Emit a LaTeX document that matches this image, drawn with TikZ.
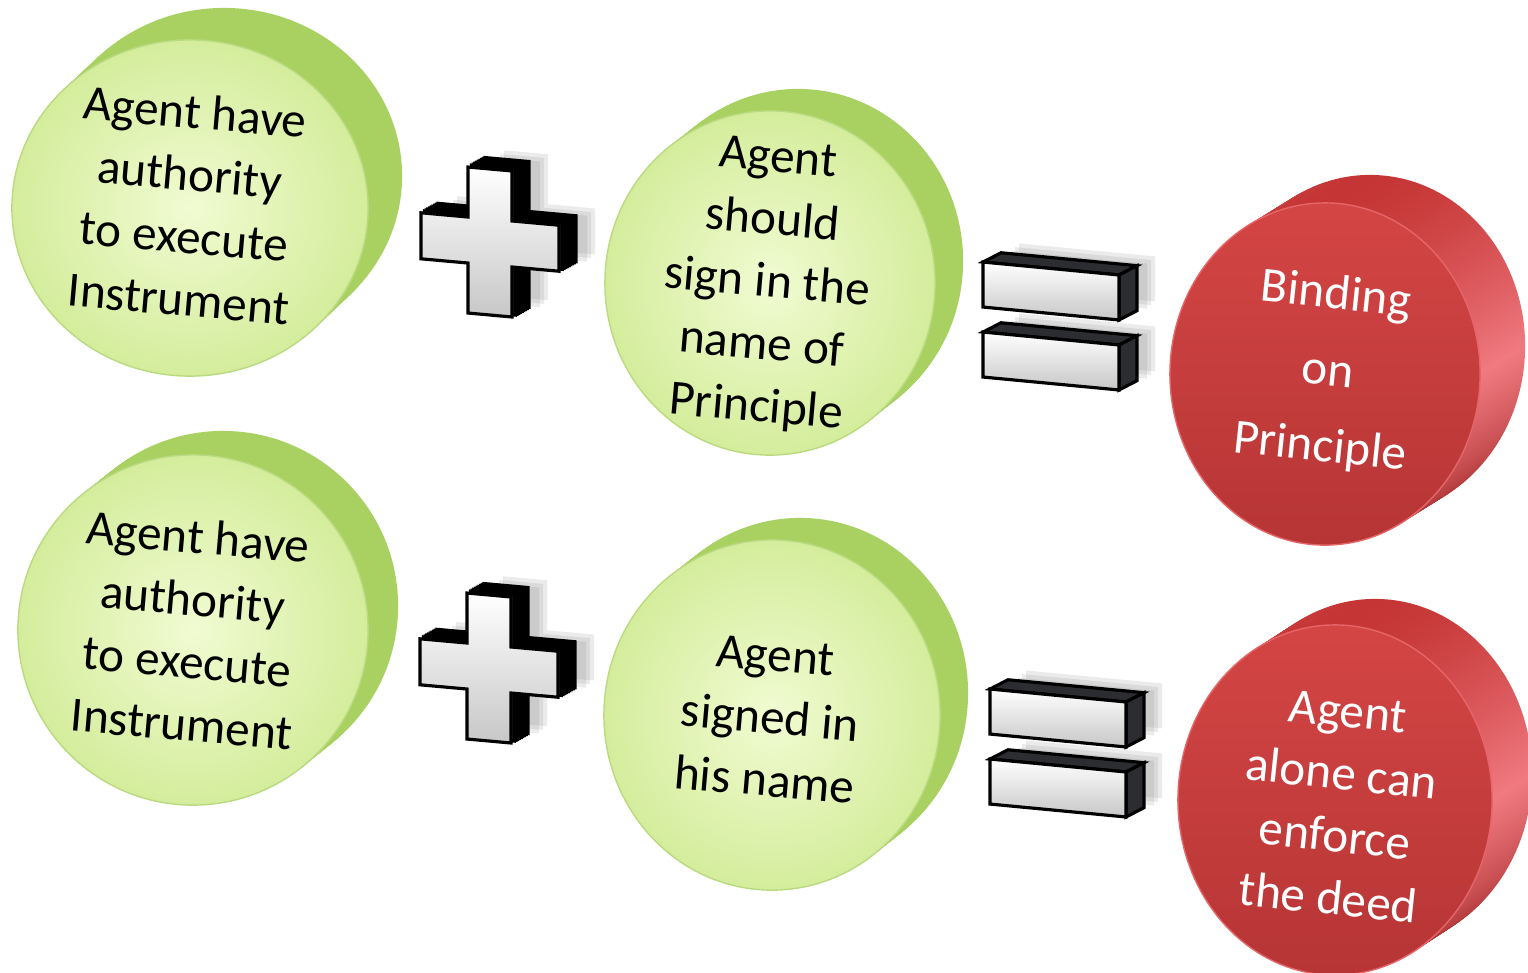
\documentclass[tikz,border=0pt]{standalone}
\usepackage{fontspec}
\setmainfont{Carlito}
\definecolor{gface}{HTML}{F1FBD2}
\definecolor{gedge}{HTML}{D4ED9C}
\definecolor{gside}{HTML}{A9D162}
\definecolor{rface}{HTML}{D44545}
\definecolor{rfacelow}{HTML}{B73535}
\definecolor{rside}{HTML}{C53535}
\definecolor{rhigh}{HTML}{F07A80}
\definecolor{blockside}{HTML}{2B2D30}
\newcommand\crosspath{(-22,-73) -- (22,-73) -- (22,-23) -- (69,-23) -- (69,23) -- (22,23) -- (22,73) -- (-22,73) -- (-22,23) -- (-69,23) -- (-69,-23) -- (-22,-23) -- cycle}
\begin{document}
\begin{tikzpicture}[x=0.01cm,y=-0.01cm,
  gtext/.style={align=center,font=\fontsize{14}{17.8}\selectfont,text=black},
  rtext/.style={align=center,font=\fontsize{14}{17.8}\selectfont,text=white},
  blockfront/.style={draw=black,line width=0.9pt,top color=white,bottom color=black!22},
  blockdark/.style={draw=black,line width=0.9pt,fill=blockside},
  blockshadow/.style={fill=black!50,opacity=0.16}]
\useasboundingbox (0,0) rectangle (1528,972);

% green discs
\foreach \cx/\cy/\rx/\ry/\dx/\dy in {190/208/1.78/1.68/34/-32, 770/283/1.65/1.72/28/-22,
                                    193/630/1.75/1.75/30/-24, 772/715/1.68/1.75/28/-22}{
  \foreach \t in {1,0.95,...,0.05}
    \fill[fill=gside] ([shift={(\t*\dx,\t*\dy)}]\cx,\cy) ellipse[x radius=\rx cm,y radius=\ry cm];
  \shade[inner color=gface,outer color=gedge,draw=gside!80!white] (\cx,\cy) ellipse[x radius=\rx cm,y radius=\ry cm];
}
% red discs
\foreach \cx/\cy/\rx/\ry/\dx/\dy in {1325/374/1.55/1.71/45/-28, 1335/800/1.57/1.75/40/-26}{
  \foreach \t in {1,0.95,...,0.05}
    \shade[top color=rside,bottom color=rside!85!black,middle color=rhigh] ([shift={(\t*\dx,\t*\dy)}]\cx,\cy) ellipse[x radius=\rx cm,y radius=\ry cm];
  \shade[top color=rface,bottom color=rfacelow,draw=rhigh!60!rface] (\cx,\cy) ellipse[x radius=\rx cm,y radius=\ry cm];
}

% plus signs
\foreach \cx/\cy in {490/242, 489/668}{
  \begin{scope}[shift={(\cx,\cy)},yslant=-0.09]
    \foreach \s in {0,4,8}
      \fill[blockshadow,shift={(28+\s,-12-\s)}] \crosspath;
    \foreach \t in {1,0.9,...,0.1}
      \filldraw[blockdark,shift={(\t*17,\t*-11)}] \crosspath;
    \shade[blockfront] \crosspath;
  \end{scope}
}

% equal signs
\foreach \cx/\cy in {1051/326, 1058/753}{
  \begin{scope}[shift={(\cx,\cy)},yslant=-0.095]
    \foreach \by in {-57.5,12.5}{
      \foreach \s in {0,4,8}
        \fill[blockshadow] (-40+\s,\by-14-\s) rectangle ++(136,45);
      \filldraw[blockdark] (-68,\by) -- (68,\by) -- (86,\by-11) -- (-50,\by-11) -- cycle;
      \filldraw[blockdark] (68,\by) -- (86,\by-11) -- (86,\by+34) -- (68,\by+45) -- cycle;
      \shade[blockfront] (-68,\by) rectangle (68,\by+45);
    }
  \end{scope}
}

% texts
\node[gtext,rotate=-5] (g1) at (187,205) {Agent have\\authority\\to execute\\Instrument};
\node[gtext,rotate=-5] (g2) at (767,285) {Agent\\should\\sign in the\\name of\\Principle};
\node[gtext,rotate=-5] (g3) at (190,630) {Agent have\\authority\\to execute\\Instrument};
\node[gtext,rotate=-5] (g4) at (770,718) {Agent\\signed in\\his name};
\node[rtext,rotate=-6] (r1) at (1328,372) {Binding\\[4pt]on\\[4pt]Principle};
\node[rtext,rotate=-6] (r2) at (1338,805) {Agent\\alone can\\enforce\\the deed};
\end{tikzpicture}
\end{document}
